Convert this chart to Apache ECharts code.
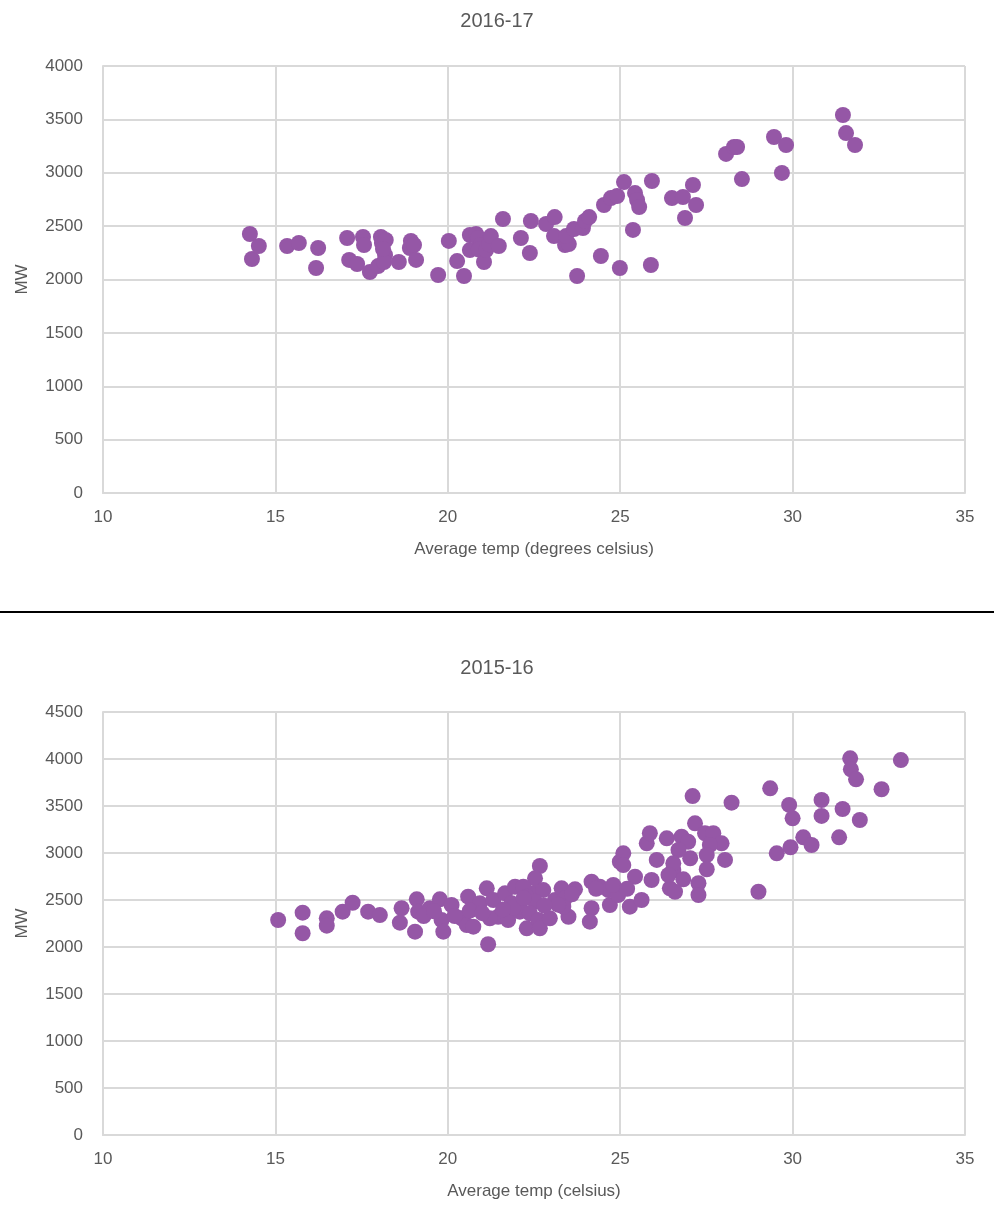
<!DOCTYPE html>
<html>
<head>
  <meta charset="utf-8">
  <title>MW vs average temp</title>
  <script src="https://cdn.jsdelivr.net/npm/echarts@6/dist/echarts.min.js"></script>
  <style>
    * { margin: 0; padding: 0; }
    html, body { width: 994px; height: 1208px; background: #fff; }
    #chart { width: 994px; height: 1208px; }
  </style>
</head>
<body>
  <div id="chart"></div>
  <script>
    // [average temp, MW]
    var points1617 = [
      [14.26,2426],[14.32,2192],[14.52,2314],[15.34,2314],[15.68,2342],[16.24,2295],[16.18,2108],
      [17.08,2389],[17.14,2183],[17.37,2145],[17.54,2398],[17.57,2323],[17.74,2070],[17.98,2126],
      [18.06,2398],[18.09,2342],[18.2,2370],[18.18,2230],[18.15,2164],[18.12,2286],[18.58,2164],
      [18.93,2361],[18.9,2295],[19.02,2323],[19.08,2183],[19.72,2042],[20.03,2361],[20.27,2173],
      [20.47,2033],[20.64,2417],[20.64,2276],[20.82,2426],[20.88,2389],[20.96,2323],[20.9,2280],
      [21.05,2164],[21.11,2276],[21.2,2330],[21.25,2407],[21.48,2314],[21.6,2567],[22.12,2389],
      [22.38,2248],[22.41,2548],[22.85,2520],[23.1,2585],[23.08,2407],[23.4,2323],[23.51,2332],
      [23.43,2407],[23.66,2473],[23.75,2033],[23.92,2482],[23.98,2548],[24.1,2585],[24.44,2220],
      [24.53,2698],[24.73,2763],[24.91,2782],[25.11,2913],[24.99,2108],[25.37,2464],[25.43,2810],
      [25.49,2745],[25.55,2679],[25.92,2923],[25.89,2136],[26.5,2763],[26.82,2773],[26.88,2576],
      [27.11,2885],[27.2,2698],[28.07,3176],[28.3,3241],[28.39,3241],[28.53,2941],[29.46,3335],
      [29.69,2998],[29.81,3260],[31.46,3541],[31.55,3372],[31.81,3260]
    ];

    var points1516 = [
      [15.08,2287],[15.79,2365],[15.79,2146],[16.49,2305],[16.49,2227],[16.95,2376],[17.24,2471],
      [17.69,2376],[18.03,2340],[18.66,2412],[18.61,2259],[19.10,2507],[19.05,2163],[19.14,2376],
      [19.48,2412],[19.77,2507],[19.82,2287],[19.87,2163],[20.11,2447],[20.40,2305],[20.59,2535],
      [20.55,2234],[20.74,2216],[21.17,2029],[20.93,2465],[21.13,2624],[21.32,2500],[21.46,2322],
      [21.22,2305],[21.75,2287],[21.66,2571],[21.95,2641],[21.85,2465],[22.09,2376],[22.29,2199],
      [22.48,2571],[22.67,2862],[22.53,2731],[22.19,2641],[22.77,2606],[22.29,2535],[22.09,2429],
      [22.53,2482],[22.38,2359],[22.63,2287],[22.67,2199],[22.96,2305],[23.11,2500],[23.30,2624],
      [23.69,2614],[23.40,2518],[23.50,2322],[23.35,2429],[24.17,2695],[24.41,2641],[24.17,2412],
      [24.12,2269],[24.66,2606],[24.70,2447],[24.94,2553],[24.99,2907],[25.09,2997],[25.09,2872],
      [25.43,2748],[25.28,2429],[25.62,2500],[25.91,2713],[26.06,2926],[25.77,3103],[25.86,3210],
      [26.35,3156],[26.44,2624],[26.54,2819],[27.10,3606],[28.23,3535],[29.35,3688],[26.78,3174],
      [26.97,3120],[27.17,3316],[27.46,3210],[27.70,3210],[27.94,3103],[27.60,3085],[27.51,2979],
      [28.04,2926],[27.03,2944],[26.69,3032],[26.54,2890],[27.51,2827],[26.40,2766],[26.83,2720],
      [27.27,2678],[27.27,2553],[26.59,2588],[29.01,2588],[29.54,2997],[31.67,4007],[31.69,3890],
      [31.84,3784],[33.14,3989],[32.58,3678],[29.90,3511],[30.0,3369],[30.84,3564],[30.84,3394],
      [31.45,3468],[31.95,3351],[30.31,3167],[30.55,3085],[29.94,3061],[31.35,3167],
      [20.64,2387],[20.2,2330],[21.9,2420],[23.2,2450],[19.3,2330],[19.6,2380],[21.0,2360],
      [21.6,2400],[22.2,2520],[22.8,2440],[23.6,2560],[24.8,2660],[25.2,2620],[24.3,2620]
    ];

    var titles = ['2016-17', '2015-16'];
    var xNames = ['Average temp (degrees celsius)', 'Average temp (celsius)'];
    var yMax = [4000, 4500];

    var purple = '#9557a6';
    var gridColor = '#d9d9d9';
    var textColor = '#595959';
    var font = 'Liberation Sans, Arial, sans-serif';

    function xAxis(i) {
      return {
        type: 'value', gridIndex: i, min: 10, max: 35, interval: 5,
        name: xNames[i], nameLocation: 'middle', nameGap: 48,
        nameTextStyle: { color: textColor, fontSize: 17, fontFamily: font },
        axisLine: { show: true, lineStyle: { color: gridColor, width: 2 } },
        axisTick: { show: false },
        axisLabel: { color: textColor, fontSize: 17, fontFamily: font, margin: 16 },
        splitLine: { show: true, lineStyle: { color: gridColor, width: 2 } }
      };
    }
    function yAxis(i) {
      return {
        type: 'value', gridIndex: i, min: 0, max: yMax[i], interval: 500,
        name: 'MW', nameLocation: 'middle', nameGap: 72,
        nameTextStyle: { color: textColor, fontSize: 17, fontFamily: font },
        axisLine: { show: true, lineStyle: { color: gridColor, width: 2 } },
        axisTick: { show: false },
        axisLabel: { color: textColor, fontSize: 17, fontFamily: font, margin: 20,
          formatter: function (v) { return String(v); } },
        splitLine: { show: true, lineStyle: { color: gridColor, width: 2 } }
      };
    }

    var chart = echarts.init(document.getElementById('chart'), null, { renderer: 'canvas' });
    chart.setOption({
      animation: false,
      title: [
        { text: titles[0], left: 'center', top: 6, textStyle: { color: textColor, fontSize: 20, fontWeight: 'normal', fontFamily: font } },
        { text: titles[1], left: 'center', top: 653, textStyle: { color: textColor, fontSize: 20, fontWeight: 'normal', fontFamily: font } }
      ],
      grid: [
        { left: 103, top: 66, width: 862, height: 427 },
        { left: 103, top: 712, width: 862, height: 423 }
      ],
      xAxis: [xAxis(0), xAxis(1)],
      yAxis: [yAxis(0), yAxis(1)],
      graphic: [
        { type: 'rect', shape: { x: 0, y: 611, width: 994, height: 2 }, style: { fill: '#000' } }
      ],
      series: [
        { type: 'scatter', xAxisIndex: 0, yAxisIndex: 0, data: points1617, symbolSize: 16, itemStyle: { color: purple, opacity: 1 } },
        { type: 'scatter', xAxisIndex: 1, yAxisIndex: 1, data: points1516, symbolSize: 16, itemStyle: { color: purple, opacity: 1 } }
      ]
    });
  </script>
</body>
</html>
